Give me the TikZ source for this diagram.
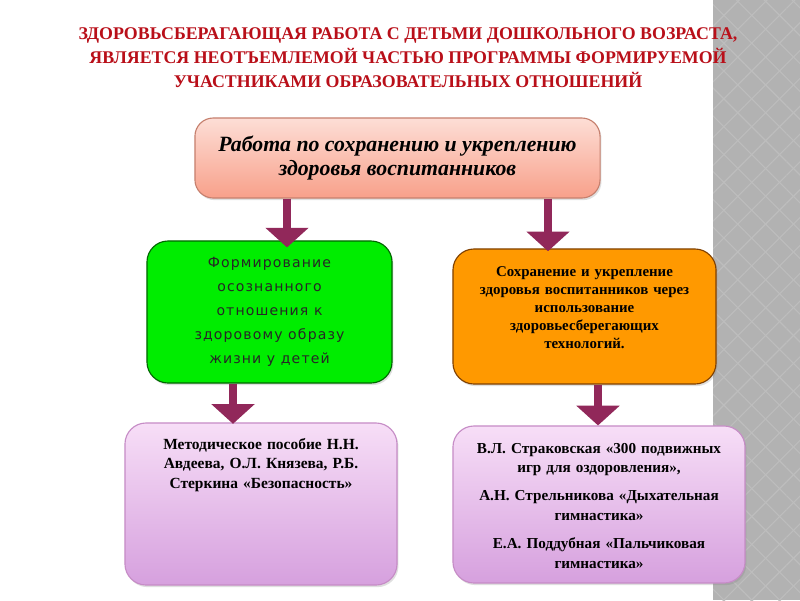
\documentclass[tikz,border=0pt]{standalone}
\usepackage{fontspec}
\setmainfont{Liberation Serif}
\newfontfamily\greenfont[LetterSpace=8]{DejaVu Sans}
\usepackage{xcolor}
\usetikzlibrary{arrows.meta,shadows,patterns.meta}
\definecolor{titlered}{RGB}{185,15,25}
\definecolor{arrowc}{RGB}{145,40,90}
\definecolor{salmontop}{RGB}{253,222,214}
\definecolor{salmonbot}{RGB}{248,160,138}
\definecolor{lilactop}{RGB}{247,222,247}
\definecolor{lilacbot}{RGB}{214,160,222}
\definecolor{techorange}{RGB}{255,153,0}

\begin{document}
\begin{tikzpicture}[x=0.025cm, y=-0.025cm,
  box/.style={draw, rounded corners=13pt, line width=0.8pt,
    drop shadow={opacity=0.25, shadow xshift=1pt, shadow yshift=-1.5pt}},
  blockarrow/.style={arrowc, line width=5.7pt,
    -{Triangle[width=30pt,length=14pt]}},
  boxtext/.style={align=center, font=\bfseries, text width=#1}]
  \useasboundingbox (0,0) rectangle (800,600);
  \fill[white] (0,0) rectangle (800,600);
  % grey stripe on the right
  \fill[gray!60] (713,0) rectangle (800,600);
  \fill[pattern={Lines[angle=45,distance=14pt,line width=0.8pt]}, pattern color=gray!52] (713,0) rectangle (800,600);
  \fill[pattern={Lines[angle=-45,distance=14pt,line width=0.8pt]}, pattern color=gray!52] (713,0) rectangle (800,600);

  % title
  \node[align=center, font=\bfseries\fontsize{12.7}{17}\selectfont, titlered] (title) at (408,58)
    {ЗДОРОВЬСБЕРАГАЮЩАЯ РАБОТА С ДЕТЬМИ ДОШКОЛЬНОГО ВОЗРАСТА,\\
     ЯВЛЯЕТСЯ НЕОТЪЕМЛЕМОЙ ЧАСТЬЮ ПРОГРАММЫ ФОРМИРУЕМОЙ\\
     УЧАСТНИКАМИ ОБРАЗОВАТЕЛЬНЫХ ОТНОШЕНИЙ};

  % boxes
  \node[box, draw=salmonbot!80!black, top color=salmontop, bottom color=salmonbot,
    minimum width=10.125cm, minimum height=2cm, align=center,
    font=\bfseries\itshape\fontsize{15.5}{17.5}\selectfont] (work) at (397.5,158)
    {Работа по сохранению и укреплению\\здоровья воспитанников};
  \node[box, draw=green!40!black, fill=green!93!black, rounded corners=15pt,
    minimum width=6.125cm, minimum height=3.55cm, align=center, text=black!85,
    font=\greenfont\fontsize{10}{17}\selectfont] (aware) at (269.5,312)
    {Формирование\\осознанного\\отношения к\\здоровому образу\\жизни у детей};
  \node[box, draw=orange!50!black, fill=techorange, rounded corners=15pt,
    minimum width=6.575cm, minimum height=3.375cm] (tech) at (584.5,316.5) {};
  \node[box, draw=violet!45, top color=lilactop, bottom color=lilacbot, rounded corners=15pt,
    minimum width=6.8cm, minimum height=4.05cm] (manual) at (261,504) {};
  \node[box, draw=violet!45, top color=lilactop, bottom color=lilacbot, rounded corners=15pt,
    minimum width=7.3cm, minimum height=3.925cm] (games) at (599,504.5) {};

  % texts in the boxes
  \node[boxtext=6.2cm, anchor=north, font=\bfseries\fontsize{10.6}{12.8}\selectfont] (techtext) at (584.5,262)
    {Сохранение и укрепление\\здоровья воспитанников через\\использование\\здоровьесберегающих\\технологий.};
  \node[boxtext=6.4cm, anchor=north, font=\bfseries\fontsize{11}{14}\selectfont] (manualtext) at (261,433)
    {Методическое пособие Н.Н.\\Авдеева, О.Л. Князева, Р.Б.\\Стеркина «Безопасность»};
  \node[boxtext=7cm, anchor=north, font=\bfseries\fontsize{10.8}{14}\selectfont] (gamestext) at (599,438)
    {В.Л. Страковская «300 подвижных\\игр для оздоровления»,\\[6pt]
     А.Н. Стрельникова «Дыхательная\\гимнастика»\\[6pt]
     Е.А. Поддубная «Пальчиковая\\гимнастика»};

  % arrows
  \coordinate (al) at (287,0);
  \coordinate (ar) at (548,0);
  \coordinate (bl) at (233,0);
  \coordinate (br) at (598,0);
  \draw[blockarrow] (al |- work.south) -- ([yshift=-5pt]al |- aware.north);
  \draw[blockarrow] (ar |- work.south) -- ([yshift=-2pt]ar |- tech.north);
  \draw[blockarrow] (bl |- aware.south) -- ([yshift=-1pt]bl |- manual.north);
  \draw[blockarrow] (br |- tech.south) -- (br |- games.north);
\end{tikzpicture}
\end{document}
